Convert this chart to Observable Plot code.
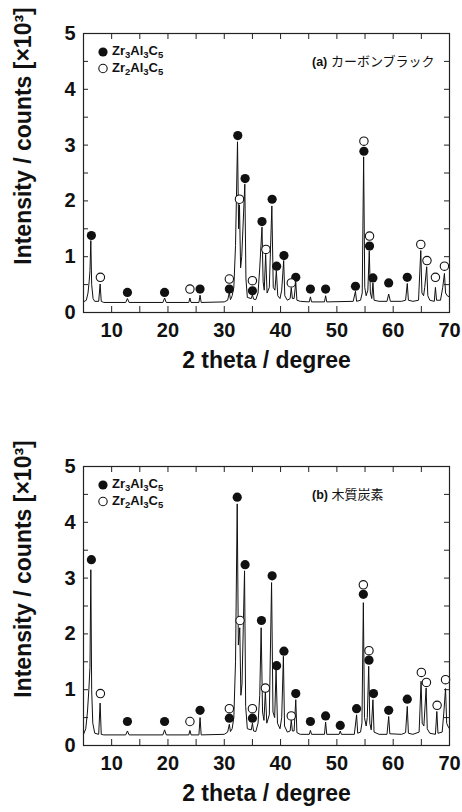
<!DOCTYPE html>
<html><head><meta charset="utf-8">
<script src="https://cdn.jsdelivr.net/npm/d3@7"></script>
<script src="https://cdn.jsdelivr.net/npm/@observablehq/plot@0.6"></script>
<style>
body{margin:0;background:#fff;}
#wrap{position:relative;width:462px;height:812px;overflow:hidden;font-family:"Liberation Sans",Arial,sans-serif;}
.panel{position:absolute;left:0;}
.leg{position:absolute;font-size:13px;font-weight:bold;line-height:13px;white-space:nowrap;color:#111;}
.leg sub{font-size:9.5px;vertical-align:-3px;line-height:0;}
.lab{position:absolute;white-space:nowrap;font-size:13px;line-height:13px;color:#111;}
.lab b{font-family:"Liberation Sans",Arial,sans-serif;font-size:12.5px;}
.lab span{font-family:"Noto Sans CJK JP",sans-serif;}
</style></head><body><div id="wrap"></div>
<script>
// ---- tick values ----
const xTickLabels = [10, 20, 30, 40, 50, 60, 70];
const xTicks = [5, 10, 15, 20, 25, 30, 35, 40, 45, 50, 55, 60, 65, 70];
const yTickLabels = [0, 1, 2, 3, 4, 5];
const yTicks = [0, 0.5, 1, 1.5, 2, 2.5, 3, 3.5, 4, 4.5, 5];
const xLabel = "2 theta / degree";
const yLabel = "Intensity / counts [×10³]";

// ---- panel (a) カーボンブラック: diffraction trace vertices [2θ, intensity ×10³] ----
const traceA = [[5.0,0.19],[5.5,0.22],[5.8,0.35],[6.0,0.55],[6.15,0.75],[6.3,1.29],[6.45,0.5],[6.7,0.25],[7.0,0.2],[7.7,0.2],[7.95,0.51],[8.15,0.2],[8.6,0.18],
[12.5,0.18],[12.8,0.25],[13.1,0.18],[19.1,0.18],[19.4,0.26],[19.7,0.18],[23.7,0.18],[23.9,0.26],[24.1,0.18],[25.5,0.18],[25.7,0.31],[25.9,0.18],
[30.0,0.19],[30.6,0.22],[30.9,0.36],[31.1,0.23],[31.4,0.3],[31.7,0.45],[32.0,1.2],[32.35,3.06],[32.55,1.5],[32.7,1.93],[32.9,0.8],[33.1,1.0],[33.65,2.3],[33.85,0.6],[34.1,0.27],[34.8,0.25],[35.0,0.32],[35.2,0.24],[35.6,0.23],[36.0,0.35],[36.3,0.8],[36.7,1.53],[36.9,0.55],[37.1,0.4],[37.35,1.04],[37.6,0.35],[38.0,0.45],[38.45,1.91],[38.7,0.45],[39.0,0.4],[39.25,0.75],[39.5,0.3],[39.9,0.25],[40.2,0.4],[40.55,0.93],[40.75,0.3],[41.2,0.22],[41.7,0.25],[41.9,0.44],[42.1,0.25],[42.4,0.25],[42.7,0.54],[42.9,0.22],[43.5,0.2],
[45.1,0.19],[45.3,0.28],[45.5,0.19],[47.8,0.19],[48.0,0.3],[48.2,0.19],[52.9,0.2],[53.3,0.38],[53.5,0.2],[54.2,0.22],[54.5,0.35],[54.75,2.79],[54.95,0.45],[55.2,0.3],[55.5,0.4],[55.75,1.1],[55.95,0.35],[56.2,0.25],[56.4,0.53],[56.6,0.22],[57.5,0.2],[58.9,0.2],[59.2,0.33],[59.5,0.2],[61.5,0.2],[62.2,0.22],[62.5,0.52],[62.7,0.22],[63.5,0.2],[64.5,0.22],[64.9,1.11],[65.1,0.35],[65.4,0.3],[65.6,0.45],[65.95,0.82],[66.15,0.3],[66.5,0.22],[67.3,0.2],[67.5,0.45],[67.7,0.22],[68.4,0.22],[68.8,0.45],[69.1,0.7],[69.3,0.35],[69.6,0.3],[70.0,0.28]];
const zr3A = [[6.4,1.38],[12.8,0.36],[19.4,0.36],[25.7,0.42],[30.9,0.42],[32.4,3.17],[33.7,2.40],[35.0,0.39],[36.7,1.63],[38.5,2.03],[39.3,0.83],[40.6,1.02],[42.7,0.63],[45.3,0.42],[48.0,0.42],[53.3,0.47],[54.8,2.89],[55.8,1.19],[56.4,0.62],[59.2,0.53],[62.5,0.63]];
const zr2A = [[8.0,0.63],[23.9,0.42],[30.9,0.60],[32.7,2.03],[35.0,0.57],[37.4,1.13],[41.9,0.53],[54.8,3.07],[55.8,1.37],[64.9,1.22],[66.0,0.93],[67.5,0.63],[69.1,0.83]];

// ---- panel (b) 木質炭素 ----
const traceB = [[5.0,0.2],[5.4,0.3],[5.7,0.6],[5.95,1.0],[6.15,1.4],[6.3,3.15],[6.45,1.0],[6.65,0.4],[7.0,0.22],[7.7,0.2],[7.95,0.76],[8.15,0.2],[8.6,0.19],
[12.5,0.19],[12.8,0.26],[13.1,0.19],[19.1,0.19],[19.4,0.28],[19.7,0.19],[23.7,0.19],[23.9,0.27],[24.1,0.19],[25.5,0.19],[25.7,0.5],[25.9,0.19],
[30.0,0.2],[30.6,0.24],[30.9,0.38],[31.1,0.25],[31.4,0.3],[31.7,0.5],[32.0,1.5],[32.3,4.33],[32.5,1.8],[32.75,2.11],[32.95,0.9],[33.15,1.1],[33.6,3.13],[33.8,0.7],[34.1,0.3],[34.8,0.28],[35.0,0.4],[35.2,0.26],[35.6,0.25],[36.0,0.4],[36.3,0.9],[36.55,2.11],[36.8,0.6],[37.05,0.45],[37.3,0.97],[37.55,0.4],[38.0,0.55],[38.4,2.92],[38.65,0.6],[38.95,0.5],[39.2,1.36],[39.45,0.4],[39.9,0.3],[40.2,0.5],[40.5,1.6],[40.7,0.35],[41.2,0.24],[41.7,0.26],[41.9,0.45],[42.1,0.26],[42.4,0.26],[42.7,0.82],[42.9,0.23],[43.5,0.2],
[45.1,0.2],[45.3,0.27],[45.5,0.2],[47.8,0.2],[48.0,0.42],[48.2,0.2],[50.4,0.2],[50.6,0.26],[50.8,0.2],[53.1,0.2],[53.5,0.55],[53.7,0.22],[54.2,0.24],[54.45,0.4],[54.7,2.56],[54.9,0.5],[55.2,0.35],[55.4,0.5],[55.65,1.42],[55.85,0.4],[56.1,0.28],[56.4,0.82],[56.6,0.24],[57.5,0.2],[58.9,0.2],[59.2,0.52],[59.4,0.21],[61.5,0.2],[62.2,0.23],[62.5,0.7],[62.7,0.22],[63.5,0.2],[64.6,0.24],[64.95,1.15],[65.15,0.4],[65.45,0.35],[65.85,1.03],[66.05,0.3],[66.5,0.22],[67.5,0.2],[67.75,0.61],[67.95,0.22],[68.7,0.24],[69.0,0.6],[69.3,1.02],[69.5,0.4],[69.7,0.35],[70.0,0.3]];
const zr3B = [[6.4,3.33],[12.8,0.43],[19.4,0.43],[25.7,0.63],[30.9,0.49],[32.3,4.45],[33.7,3.24],[35.0,0.49],[36.6,2.24],[38.5,3.04],[39.3,1.43],[40.6,1.69],[42.7,0.93],[45.3,0.43],[48.0,0.53],[50.6,0.36],[53.5,0.66],[54.7,2.71],[55.7,1.53],[56.5,0.93],[59.2,0.63],[62.5,0.83]];
const zr2B = [[8.0,0.93],[23.9,0.43],[30.9,0.66],[32.8,2.24],[35.0,0.66],[37.3,1.03],[41.9,0.53],[54.7,2.88],[55.7,1.70],[65.0,1.31],[65.9,1.13],[67.8,0.72],[69.3,1.18]];

const panels = [
  {trace: traceA, filled: zr3A, open: zr2A, tag: "(a)", name: "カーボンブラック", top: 0},
  {trace: traceB, filled: zr3B, open: zr2B, tag: "(b)", name: "木質炭素", top: 433}
];

const wrap = document.getElementById("wrap");
const W = 462, H = 379, mL = 83, mR = 13, mT = 33, mB = 67;
const fw = W - mL - mR, fh = H - mT - mB;

for (const p of panels) {
  const chart = Plot.plot({
    width: W, height: H, marginLeft: mL, marginRight: mR, marginTop: mT, marginBottom: mB,
    style: {fontFamily: '"Liberation Sans", Arial, sans-serif', fontWeight: "bold", fontSize: "20px", color: "#111", background: "transparent", overflow: "visible"},
    x: {domain: [5, 70]},
    y: {domain: [0, 5]},
    marks: [
      Plot.axisX({ticks: xTickLabels, tickSize: 0, tickPadding: 10, label: null, fontSize: 20, tickFormat: d => String(d)}),
      Plot.axisY({ticks: yTickLabels, tickSize: 0, tickPadding: 8, label: null, fontSize: 20, tickFormat: d => String(d)}),
      Plot.ruleX(xTicks, {insetTop: fh - 6, stroke: "#222"}),
      Plot.ruleX(xTicks, {insetBottom: fh - 6, stroke: "#222"}),
      Plot.ruleY(yTicks, {insetRight: fw - 5, stroke: "#222"}),
      Plot.ruleY(yTicks, {insetLeft: fw - 5, stroke: "#222"}),
      Plot.line(p.trace, {x: d => d[0], y: d => d[1], stroke: "#111", strokeWidth: 1}),
      Plot.dot(p.filled, {x: d => d[0], y: d => d[1], r: 4.6, fill: "#111", stroke: "none"}),
      Plot.dot(p.open, {x: d => d[0], y: d => d[1], r: 4.2, fill: "white", stroke: "#111", strokeWidth: 1.1}),
      Plot.frame({stroke: "#222", strokeWidth: 1.2}),
      Plot.dot([0], {frameAnchor: "top-left", dx: 19.5, dy: 18.5, r: 4.6, fill: "#111", stroke: "none"}),
      Plot.dot([0], {frameAnchor: "top-left", dx: 19.5, dy: 35, r: 4.2, fill: "white", stroke: "#111", strokeWidth: 1.1}),
      Plot.text([xLabel], {frameAnchor: "bottom", dy: 55, fontSize: 23, fontWeight: "bold", fill: "#111"}),
      Plot.text([yLabel], {frameAnchor: "left", textAnchor: "middle", dx: -60, dy: -37, rotate: -90, fontSize: 23, fontWeight: "bold", fill: "#111"})
    ]
  });
  const holder = document.createElement("div");
  holder.className = "panel";
  holder.style.top = p.top + "px";
  holder.appendChild(chart);
  wrap.appendChild(holder);

  const l1 = document.createElement("div");
  l1.className = "leg";
  l1.style.left = "112px"; l1.style.top = (p.top + 44) + "px";
  l1.innerHTML = "Zr<sub>3</sub>Al<sub>3</sub>C<sub>5</sub>";
  wrap.appendChild(l1);
  const l2 = document.createElement("div");
  l2.className = "leg";
  l2.style.left = "112px"; l2.style.top = (p.top + 61) + "px";
  l2.innerHTML = "Zr<sub>2</sub>Al<sub>3</sub>C<sub>5</sub>";
  wrap.appendChild(l2);

  const lab = document.createElement("div");
  lab.className = "lab";
  lab.style.left = "312px"; lab.style.top = (p.top + 54) + "px";
  lab.innerHTML = "<b>" + p.tag + "</b> <span>" + p.name + "</span>";
  wrap.appendChild(lab);
}
</script></body></html>
